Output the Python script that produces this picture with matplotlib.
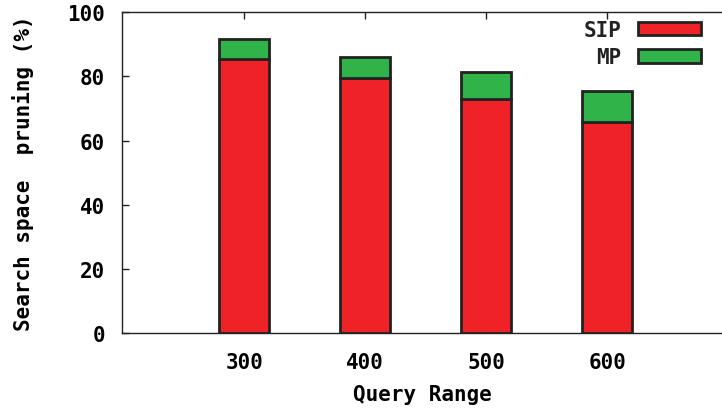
import matplotlib
matplotlib.use("Agg")
import matplotlib.pyplot as plt
import numpy as np

categories = ["300", "400", "500", "600"]
sip = [85.4, 79.4, 72.9, 65.7]
total = [91.6, 86.0, 81.3, 75.4]
mp = [t - s for t, s in zip(total, sip)]

RED = "#EE2227"
GREEN = "#30B44A"
EDGE = "#222222"
FONT = dict(family="DejaVu Sans Mono", weight="bold", size=15)

fig = plt.figure(figsize=(7.22, 4.10), dpi=100)
ax = fig.add_axes([122 / 722, (410 - 334) / 410, 1 - 122 / 722, (334 - 13.3) / 410])

x = np.arange(1, len(categories) + 1)
w = 0.414
ax.bar(x, sip, width=w, color=RED, edgecolor=EDGE, linewidth=2.0, label="SIP", zorder=3)
ax.bar(x, mp, bottom=sip, width=w, color=GREEN, edgecolor=EDGE, linewidth=2.0, label="MP", zorder=3)

ax.set_xlim(-0.01, 4.95)
ax.set_ylim(0, 100)
ax.set_xticks(x)
ax.set_xticklabels(categories, fontdict=FONT)
ax.set_yticks(np.arange(0, 101, 20))
ax.set_yticklabels([str(v) for v in range(0, 101, 20)], fontdict=FONT)
ax.tick_params(axis="both", direction="in", length=5, width=1.0, color=EDGE, top=True)
ax.tick_params(axis="x", pad=14)
ax.tick_params(axis="y", pad=12)
ax.spines["right"].set_visible(False)
for s in ["left", "bottom", "top"]:
    ax.spines[s].set_linewidth(1.0)
    ax.spines[s].set_color(EDGE)

ax.set_xlabel("Query Range", fontdict=FONT, labelpad=8)
ax.set_ylabel("Search space  pruning (%)", fontdict=FONT, labelpad=24)

leg = ax.legend(loc="upper right", bbox_to_anchor=(0.996, 1.035), frameon=False,
                markerfirst=False, handlelength=3.0, handleheight=0.6,
                labelspacing=0.36, handletextpad=0.8,
                prop=dict(family="DejaVu Sans Mono", weight="bold", size=15))
for t in leg.get_texts():
    t.set_color(EDGE)
for h in leg.legend_handles:
    h.set_linewidth(2.0)

fig.savefig("out.png", dpi=100)
